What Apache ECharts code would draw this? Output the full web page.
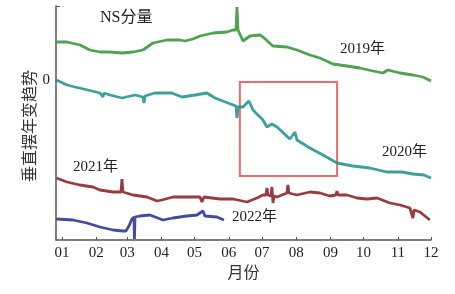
<!DOCTYPE html>
<html>
<head>
<meta charset="utf-8">
<script src="https://cdn.jsdelivr.net/npm/echarts@6/dist/echarts.min.js"></script>
<style>
  html, body { margin: 0; padding: 0; background: #fff; }
  #chart { width: 455px; height: 294px; }
</style>
</head>
<body>
<div id="chart"></div>
<script>
// 垂直摆 NS 分量年变趋势，横轴为年内天数（0 = 1月1日），纵轴为相对量
var chart = echarts.init(document.getElementById('chart'));

var monthLabels = ['01', '02', '03', '04', '05', '06', '07', '08', '09', '10', '11', '12'];
// 每月1日对应的年内天数
var monthStartDays = [0, 31, 59, 90, 120, 151, 181, 212, 243, 273, 304, 334];

var days2019 = [-5, 4.5, 16.3, 25.3, 34.4, 43.4, 54.3, 64.3, 73.3, 82.4, 95, 106.8, 111.3, 113.1, 118.6, 124.9, 136.7, 149.3, 154.8, 157.5, 158.4, 159.3, 163.8, 170.1, 179.2, 181.9, 190.9, 203.6, 212.7, 224.4, 233.5, 245.2, 257.9, 269.7, 281.4, 290.5, 295, 296.8, 305.9, 317.6, 326.7, 334];
var vals2019 = [38, 38, 35, 30, 28, 28, 27, 28, 30, 37, 40, 40, 39, 37, 41, 44, 47, 48, 50, 50, 73, 50, 39, 44, 45, 43, 34, 33, 30, 25, 22, 16, 14, 12, 9, 7, 10, 8, 7, 5, 3, -1];

var days2020 = [-5, 4.5, 11.8, 23.5, 34.4, 36.2, 37.1, 38, 43.4, 54.3, 66.1, 73.3, 74.2, 75.1, 84.2, 99.5, 108.6, 120.4, 131.2, 138.5, 150.2, 157.5, 158.4, 159.3, 163.8, 169.2, 172.9, 181.9, 185.5, 190, 194.6, 206.3, 210.9, 212.7, 224.4, 236.2, 248.9, 263.3, 278.7, 294.1, 307.7, 317.6, 327.6, 334];
var vals2020 = [0, -5, -7, -10, -13, -13, -17, -13, -15, -18, -15, -17, -23, -16, -13, -13, -17, -15, -13, -18, -23, -26, -38, -27, -27, -21, -30, -40, -47, -44, -47, -59, -52, -60, -68, -75, -83, -86, -88, -92, -92, -94, -95, -98];

var days2021 = [-5, 4.5, 16.3, 28.1, 34.4, 46.2, 53.4, 54.3, 55.2, 64.3, 76.9, 86, 90.5, 100.5, 113.1, 124.9, 126.7, 128.5, 143, 154.8, 167.4, 176.5, 181.9, 184.6, 185.5, 186.4, 189.1, 190, 191, 191.9, 194.6, 203.6, 204.5, 205.4, 212.7, 224.4, 233.5, 242.5, 247.9, 248.9, 249.8, 257.9, 267, 276, 285.1, 296.8, 305.9, 314.9, 316.7, 317.6, 318.6, 324, 333];
var vals2021 = [-98, -102, -105, -107, -110, -112, -112, -99, -112, -115, -117, -121, -120, -117, -117, -117, -122, -117, -119, -119, -122, -118, -115, -115, -108, -115, -116, -107, -123, -116, -117, -113, -105, -113, -115, -112, -113, -116, -115, -111, -115, -115, -118, -119, -118, -123, -125, -128, -129, -138, -130, -132, -140];

var days2022 = [-5, 10, 22.6, 34.4, 46.2, 55.2, 57.9, 60.6, 63.3, 65.2, 65.6, 66.1, 70.6, 79.6, 91.4, 100.5, 113.1, 122.2, 124.9, 127.6, 129.4, 140.3, 146.6];
var vals2022 = [-139, -140, -143, -147, -150, -151, -151, -146, -139, -137, -159, -137, -136, -135, -140, -138, -136, -135, -133, -131, -136, -137, -140];

// 红框范围（天数、数值）
var boxDays = [161, 249];
var boxVals = [-2, -96];

function pairs(xs, ys) {
    return xs.map(function (x, i) { return [x, ys[i]]; });
}

var textFont = '"Liberation Serif", "Noto Sans CJK SC", serif';

function lineSeries(name, xs, ys, color) {
    return {
        name: name,
        type: 'line',
        data: pairs(xs, ys),
        showSymbol: false,
        symbol: 'none',
        lineStyle: { color: color, width: 2.8, opacity: 0.9 },
        z: 3
    };
}

var series = [
    lineSeries('2019年', days2019, vals2019, '#3a993c'),
    lineSeries('2020年', days2020, vals2020, '#289692'),
    lineSeries('2021年', days2021, vals2021, '#8e262d'),
    lineSeries('2022年', days2022, vals2022, '#2c3894')
];
series[1].markArea = {
    silent: true,
    itemStyle: { color: 'rgba(0,0,0,0)', borderColor: '#f06a6a', borderWidth: 2 },
    data: [[{ coord: [boxDays[0], boxVals[0]] }, { coord: [boxDays[1], boxVals[1]] }]]
};

var option = {
    animation: false,
    grid: { left: 56, right: 24, top: 6, bottom: 54 },
    xAxis: {
        type: 'value',
        min: -5.4,
        max: 334,
        name: '月份',
        nameLocation: 'middle',
        nameGap: 26,
        nameTextStyle: { fontFamily: textFont, fontSize: 16, color: '#333' },
        axisLine: { onZero: false, lineStyle: { color: '#555', width: 1.5 } },
        axisTick: { inside: true, length: 3, customValues: monthStartDays, lineStyle: { color: '#555' } },
        axisLabel: {
            customValues: monthStartDays,
            margin: 6,
            fontFamily: textFont,
            fontSize: 15,
            color: '#222',
            formatter: function (v) { return monthLabels[monthStartDays.indexOf(v)]; }
        },
        splitLine: { show: false }
    },
    yAxis: {
        type: 'value',
        min: -160,
        max: 74,
        axisLine: { show: true, onZero: false, lineStyle: { color: '#555', width: 1.5 } },
        axisTick: { show: true, inside: true, length: 4, customValues: [0, 74], lineStyle: { color: '#555' } },
        axisLabel: { customValues: [0], margin: 6, fontFamily: textFont, fontSize: 15, color: '#222' },
        splitLine: { show: false }
    },
    graphic: [
        {
            type: 'text', x: 31, y: 126, rotation: Math.PI / 2,
            style: { text: '垂直摆年变趋势', font: '16px ' + textFont, fill: '#333', align: 'center', verticalAlign: 'middle' }
        },
        { type: 'text', left: 100, top: 10, style: { text: 'NS分量', font: '16px ' + textFont, fill: '#222' } },
        { type: 'text', left: 340, top: 42, style: { text: '2019年', font: '15px ' + textFont, fill: '#222' } },
        { type: 'text', left: 382, top: 145, style: { text: '2020年', font: '15px ' + textFont, fill: '#222' } },
        { type: 'text', left: 73, top: 160, style: { text: '2021年', font: '15px ' + textFont, fill: '#222' } },
        { type: 'text', left: 232, top: 210, style: { text: '2022年', font: '15px ' + textFont, fill: '#222' } }
    ],
    series: series
};

chart.setOption(option);
</script>
</body>
</html>
